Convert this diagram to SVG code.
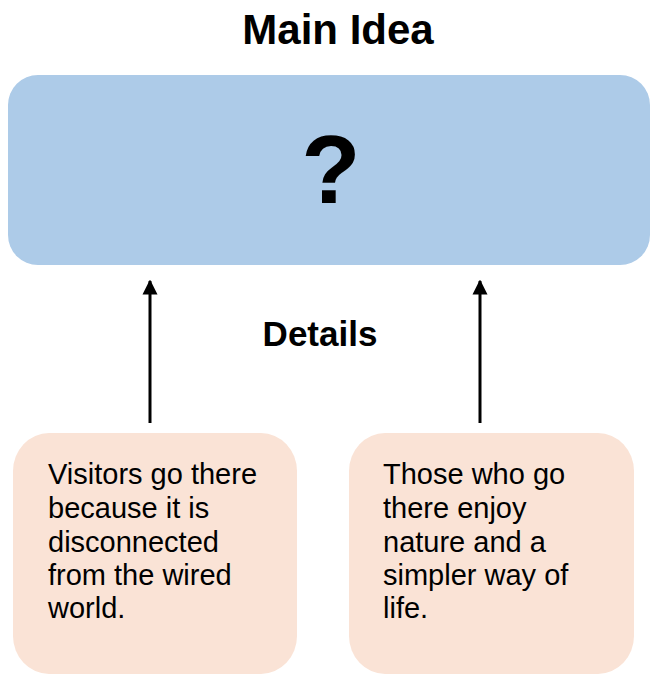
<svg xmlns="http://www.w3.org/2000/svg" width="650" height="675" viewBox="0 0 650 675">
<style>
.t{font-family:"Liberation Sans",Arial,sans-serif;fill:#000}
.b{font-weight:bold}
.body{font-size:29px}
.arrow{stroke:#000;stroke-width:3;fill:none}
</style>
<defs>
<marker id="ah" viewBox="0 0 10 10" refX="9" refY="5" markerWidth="5" markerHeight="5.3" markerUnits="strokeWidth" orient="auto">
<path d="M0,0 L10,5 L0,10 Z" fill="#000"/>
</marker>
</defs>
<rect width="650" height="675" fill="#fff"/>
<text class="t b" x="338" y="44" font-size="42" text-anchor="middle">Main Idea</text>
<g id="main">
<rect x="8" y="75" width="642" height="190" rx="30" ry="30" fill="#ADCBE8"/>
<text class="t b" x="331" y="203" font-size="97" text-anchor="middle">?</text>
</g>
<text class="t b" x="320" y="346" font-size="35" text-anchor="middle">Details</text>
<g id="connectors">
<line class="arrow" x1="150" y1="423" x2="150" y2="281" marker-end="url(#ah)"/>
<line class="arrow" x1="480" y1="423" x2="480" y2="281" marker-end="url(#ah)"/>
</g>
<g id="detail1">
<rect x="13" y="433" width="284" height="241" rx="36" ry="38" fill="#FAE3D6"/>
<text class="t body" x="48">
<tspan x="48" y="484">Visitors go there</tspan>
<tspan x="48" y="518">because it is</tspan>
<tspan x="48" y="552">disconnected</tspan>
<tspan x="48" y="585">from the wired</tspan>
<tspan x="48" y="618">world.</tspan>
</text>
</g>
<g id="detail2">
<rect x="349" y="433" width="285" height="241" rx="36" ry="38" fill="#FAE3D6"/>
<text class="t body" x="383">
<tspan x="383" y="484">Those who go</tspan>
<tspan x="383" y="518">there enjoy</tspan>
<tspan x="383" y="552">nature and a</tspan>
<tspan x="383" y="585">simpler way of</tspan>
<tspan x="383" y="618">life.</tspan>
</text>
</g>
</svg>
